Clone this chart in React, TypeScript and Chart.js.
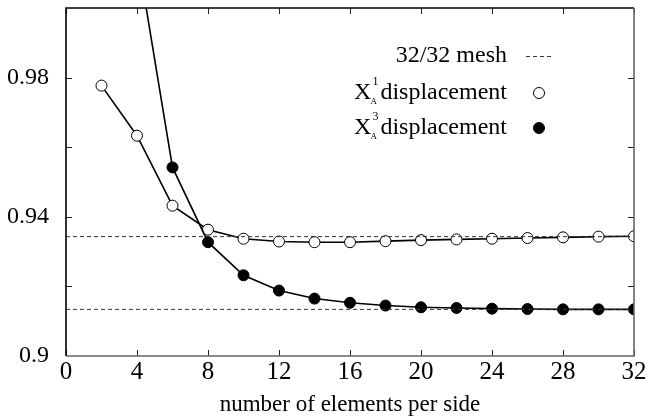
import React, { useEffect, useRef } from "react";
import { Chart, registerables } from "chart.js";

Chart.register(...registerables);

const elements = [2, 4, 6, 8, 10, 12, 14, 16, 18, 20, 22, 24, 26, 28, 30, 32];
const xa1Values = [0.9777, 0.9633, 0.9432, 0.9363, 0.9337, 0.9329, 0.9327, 0.9327, 0.933, 0.9333, 0.9335, 0.9337, 0.9339, 0.9341, 0.9343, 0.9344];
const xa3Elements = [4, 6, 8, 10, 12, 14, 16, 18, 20, 22, 24, 26, 28, 30, 32];
const xa3Values = [1.016, 0.9542, 0.9327, 0.9232, 0.9188, 0.9165, 0.9153, 0.9145, 0.914, 0.9138, 0.9136, 0.9135, 0.9134, 0.9134, 0.9134];
const meshX = [0, 32];
const meshXa1 = 0.9343;
const meshXa3 = 0.9134;
const yLabels: Record<string, string> = { "0.9": "0.9", "0.94": "0.94", "0.98": "0.98" };
const xTitle = "number of elements per side";

const FONT = "'Liberation Serif', 'Times New Roman', serif";

const framePlugin = {
  id: "frame",
  afterDatasetsDraw(chart: any) {
    const { ctx, chartArea: a, scales } = chart;
    ctx.save();
    const tl = 6;
    ctx.lineWidth = 1;
    ctx.strokeStyle = "#222";
    for (let v = 0; v <= 32; v += 4) {
      const px = Math.round(scales.x.getPixelForValue(v)) + 0.5;
      ctx.beginPath();
      ctx.moveTo(px, a.bottom);
      ctx.lineTo(px, a.bottom - tl);
      ctx.moveTo(px, a.top);
      ctx.lineTo(px, a.top + tl);
      ctx.stroke();
    }
    for (let i = 1; i <= 4; i++) {
      const v = 0.9 + i * 0.02;
      const py = Math.round(scales.y.getPixelForValue(v)) + 0.5;
      ctx.beginPath();
      ctx.moveTo(a.left, py);
      ctx.lineTo(a.left + tl, py);
      ctx.moveTo(a.right, py);
      ctx.lineTo(a.right - tl, py);
      ctx.stroke();
    }
    ctx.lineWidth = 1.6;
    ctx.strokeStyle = "#000";
    ctx.beginPath();
    ctx.moveTo(a.left, a.bottom);
    ctx.lineTo(a.left, a.top);
    ctx.lineTo(a.right, a.top);
    ctx.stroke();
    ctx.strokeStyle = "#666";
    ctx.beginPath();
    ctx.moveTo(a.right, a.top);
    ctx.lineTo(a.right, a.bottom);
    ctx.lineTo(a.left, a.bottom);
    ctx.stroke();

    // legend
    const xr = 507;
    ctx.fillStyle = "#000";
    ctx.font = `24px ${FONT}`;
    ctx.textAlign = "right";
    ctx.textBaseline = "middle";
    const rows = [56, 93, 128];
    ctx.fillText("32/32 mesh", xr, rows[0]);
    ctx.setLineDash([4, 3]);
    ctx.lineWidth = 1;
    ctx.strokeStyle = "#333";
    ctx.beginPath();
    ctx.moveTo(526, rows[0] + 0.5);
    ctx.lineTo(551, rows[0] + 0.5);
    ctx.stroke();
    ctx.setLineDash([]);
    const sups = ["1", "3"];
    for (let i = 0; i < 2; i++) {
      const y = rows[i + 1];
      ctx.font = `24px ${FONT}`;
      ctx.textAlign = "right";
      ctx.fillText("displacement", xr, y);
      const w = ctx.measureText("displacement").width;
      const xd = xr - w - 2;
      ctx.font = `12px ${FONT}`;
      ctx.textAlign = "left";
      ctx.fillText(sups[i], xd - 6, y - 11);
      ctx.font = `9px ${FONT}`;
      ctx.fillText("A", xd - 8, y + 9);
      ctx.font = `24px ${FONT}`;
      ctx.textAlign = "right";
      ctx.fillText("X", xd - 7, y);
      ctx.beginPath();
      ctx.arc(539, y, 5.5, 0, Math.PI * 2);
      ctx.fillStyle = i === 0 ? "#fff" : "#000";
      ctx.fill();
      ctx.lineWidth = 1;
      ctx.strokeStyle = "#000";
      ctx.stroke();
      ctx.fillStyle = "#000";
    }
    ctx.restore();
  },
};

export default function App() {
  const ref = useRef<HTMLCanvasElement>(null);
  useEffect(() => {
    const chart = new Chart(ref.current!, {
      type: "line",
      data: {
        datasets: [
          {
            label: "mesh1",
            data: meshX.map((x) => ({ x, y: meshXa1 })),
            borderColor: "#333",
            borderWidth: 1,
            borderDash: [4, 3],
            pointRadius: 0,
          },
          {
            label: "mesh3",
            data: meshX.map((x) => ({ x, y: meshXa3 })),
            borderColor: "#333",
            borderWidth: 1,
            borderDash: [4, 3],
            pointRadius: 0,
          },
          {
            label: "XA3",
            data: xa3Elements.map((x, i) => ({ x, y: xa3Values[i] })),
            borderColor: "#000",
            borderWidth: 1.6,
            pointRadius: 5.5,
            pointBackgroundColor: "#000",
            pointBorderColor: "#000",
            pointBorderWidth: 1,
          },
          {
            label: "XA1",
            data: elements.map((x, i) => ({ x, y: xa1Values[i] })),
            borderColor: "#000",
            borderWidth: 1.6,
            pointRadius: 5.5,
            pointBackgroundColor: "#fff",
            pointBorderColor: "#000",
            pointBorderWidth: 1,
          },
        ],
      },
      options: {
        animation: false,
        responsive: false,
        maintainAspectRatio: false,
        layout: { padding: { top: 8, right: 25, left: 0, bottom: 0 } },
        plugins: { legend: { display: false }, tooltip: { enabled: false } },
        scales: {
          x: {
            type: "linear",
            min: 0,
            max: 32,
            grid: { display: false },
            border: { display: false },
            afterFit: (s: any) => { s.height = 63; s.paddingLeft = 0; s.paddingRight = 0; },
            ticks: {
              stepSize: 4,
              color: "#000",
              padding: -7,
              font: { family: FONT, size: 25 },
              maxRotation: 0,
            },
            title: {
              display: true,
              text: xTitle,
              color: "#000",
              font: { family: FONT, size: 23 },
              padding: { top: 7, bottom: 0 },
            },
          },
          y: {
            type: "linear",
            min: 0.9,
            max: 1.0,
            grid: { display: false },
            border: { display: false },
            afterFit: (s: any) => { s.width = 66; s.paddingTop = 0; s.paddingBottom = 0; },
            ticks: {
              stepSize: 0.02,
              color: "#000",
              padding: 9,
              font: { family: FONT, size: 24 },
              callback: (v: any) => {
                const k = String(Math.round(Number(v) * 100) / 100);
                return yLabels[k] ?? "";
              },
            },
          },
        },
      },
      plugins: [framePlugin],
    } as any);
    return () => chart.destroy();
  }, []);
  return (
    <div style={{ position: "fixed", left: 0, top: 0, width: 659, height: 419, background: "#fff" }}>
      <canvas ref={ref} width={659} height={419} />
    </div>
  );
}
